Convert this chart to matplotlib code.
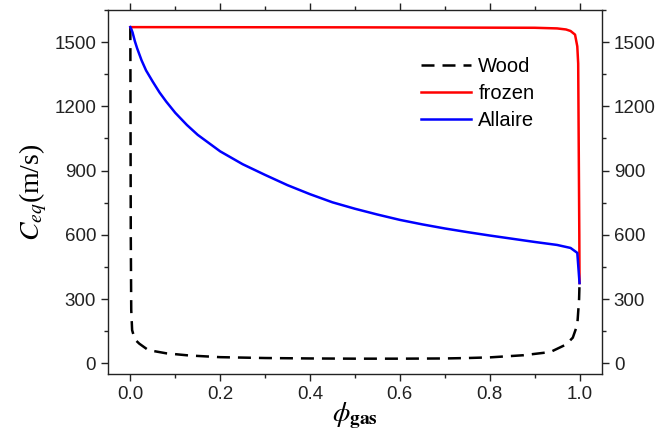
import matplotlib
matplotlib.use("Agg")
import matplotlib.pyplot as plt
from matplotlib.ticker import MultipleLocator

plt.rcParams['font.family'] = ['Liberation Sans', 'DejaVu Sans']
plt.rcParams['mathtext.fontset'] = 'stix'

# gas volume fraction vs. equilibrium sound speed
phi_wood = [0.0, 0.001, 0.002, 0.004, 0.01, 0.02, 0.04, 0.08, 0.13, 0.2, 0.3, 0.4,
            0.5, 0.6, 0.7, 0.75, 0.8, 0.875, 0.935, 0.97, 0.985, 0.995, 0.999, 1.0]
c_wood = [1570, 600, 250, 155, 112, 92, 62, 47, 37, 29, 25, 23,
          22, 22, 23, 25, 28, 38, 53, 88, 120, 180, 300, 375]

phi_frozen = [0.0, 0.5, 0.9, 0.95, 0.97, 0.98, 0.99, 0.995, 0.997, 0.9995, 1.0]
c_frozen = [1570, 1569, 1567, 1564, 1559, 1552, 1535, 1480, 1400, 600, 375]

phi_allaire = [0.0, 0.002, 0.005, 0.01, 0.015, 0.025, 0.035, 0.05, 0.065, 0.08, 0.1,
               0.126, 0.15, 0.2, 0.25, 0.3, 0.35, 0.4, 0.45, 0.5, 0.55, 0.6, 0.65,
               0.7, 0.75, 0.8, 0.85, 0.9, 0.95, 0.98, 0.995, 1.0]
c_allaire = [1570, 1562, 1545, 1505, 1472, 1415, 1368, 1315, 1265, 1222, 1170,
             1113, 1067, 990, 930, 880, 832, 790, 752, 722, 695, 670, 649,
             630, 613, 597, 582, 567, 553, 539, 516, 375]

fig = plt.figure(figsize=(6.7, 4.29), dpi=100)
ax = fig.add_axes([0.161, 0.128, 0.7375, 0.8487])

ax.plot(phi_wood, c_wood, color='black', lw=1.8, dashes=(5.2, 3.2), label='Wood')
ax.plot(phi_frozen, c_frozen, color='red', lw=1.8, label='frozen')
ax.plot(phi_allaire, c_allaire, color='blue', lw=1.8, label='Allaire')

ax.set_xlim(-0.05, 1.05)
ax.set_ylim(-50, 1650)
ax.xaxis.set_major_locator(MultipleLocator(0.2))
ax.xaxis.set_minor_locator(MultipleLocator(0.1))
ax.yaxis.set_major_locator(MultipleLocator(300))
ax.yaxis.set_minor_locator(MultipleLocator(150))
ax.xaxis.set_major_formatter(plt.FuncFormatter(lambda v, p: f"{v:.1f}"))

ax.tick_params(which='both', direction='out', top=True, right=True,
               labelright=True, width=1, labelsize=13.5, colors='#222222')
ax.tick_params(which='major', length=5)
ax.tick_params(which='minor', length=3)
for s in ax.spines.values():
    s.set_linewidth(1.0)
    s.set_color('#222222')

ax.set_ylabel(r'$C_{eq}$(m/s)', fontsize=20, family='Liberation Serif', labelpad=4)
ax.set_xlabel(r'$\phi_{\mathbf{gas}}$', fontsize=20, labelpad=-2)

ax.legend(loc='upper right', bbox_to_anchor=(0.9, 0.92), frameon=False, fontsize=14.5,
          handlelength=2.5, labelspacing=0.38, handletextpad=0.35)

fig.savefig('out.png', dpi=100)
